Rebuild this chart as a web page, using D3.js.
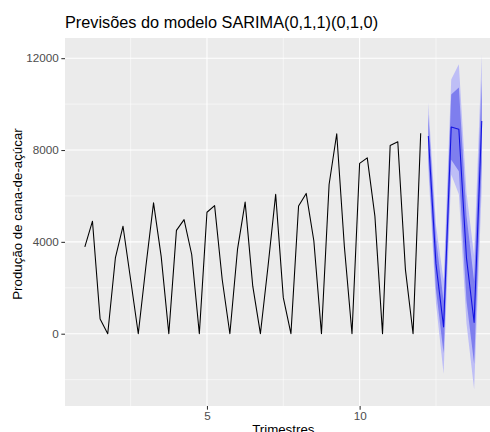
<!DOCTYPE html>
<html>
<head>
<meta charset="utf-8">
<script src="https://cdn.jsdelivr.net/npm/d3@7"></script>
<style>
  body { margin: 0; background: #fff; }
  text { font-family: "Liberation Sans", Arial, sans-serif; }
</style>
</head>
<body>
<svg id="chart" width="490" height="432"></svg>
<script>
// serie trimestral observada (inicio em 1, frequencia 4)
const inicio = 1;
const freq = 4;
const observado = [
  3780, 4900, 640, 0,
  3300, 4680, 2350, 0,
  2940, 5700, 3370, 0,
  4500, 4970, 3450, 0,
  5290, 5580, 2350, 0,
  3670, 5730, 2070, 0,
  2940, 6070, 1570, 0,
  5560, 6110, 4050, 0,
  6500, 8710, 3800, 0,
  7420, 7660, 5120, 0,
  8200, 8360, 2790, 0,
  8730
];

// previsoes (h = 1..8) e intervalos 80% / 95%
const previsao = [8610, 3040, 290, 9000, 8900, 3290, 490, 9260];
const lo80 = [7660, 1930, -840, 7580, 7080, 1430, -1310, 7470];
const hi80 = [9560, 4150, 1420, 10420, 10720, 5150, 2290, 11050];
const lo95 = [7160, 1340, -1740, 6930, 6070, 440, -2420, 6370];
const hi95 = [10060, 4740, 2320, 11070, 11730, 6140, 3400, 12150];

const xMajor = [5, 10];
const xMinor = [2.5, 7.5, 12.5];
const yMajor = [0, 4000, 8000, 12000];
const yMinor = [-2000, 2000, 6000, 10000];

const titulo = 'Previsões do modelo SARIMA(0,1,1)(0,1,0)';
const rotuloX = 'Trimestres';
const rotuloY = 'Produção de cana-de-açúcar';

const obs = observado.map((v, i) => ({ t: inicio + i / freq, v }));
const t0 = inicio + observado.length / freq;
const fc = previsao.map((v, i) => ({
  t: t0 + i / freq, v, lo80: lo80[i], hi80: hi80[i], lo95: lo95[i], hi95: hi95[i]
}));

const svg = d3.select('#chart');
const panel = { left: 65, top: 38, right: 501.6, bottom: 406 };

// escalas com expansao de 5% como no ggplot
const tExt = d3.extent([...obs.map(d => d.t), ...fc.map(d => d.t)]);
const tPad = (tExt[1] - tExt[0]) * 0.05;
const x = d3.scaleLinear().domain([tExt[0] - tPad, tExt[1] + tPad]).range([panel.left, panel.right]);

const vExt = d3.extent([...observado, ...lo95, ...hi95]);
const vPad = (vExt[1] - vExt[0]) * 0.05;
const y = d3.scaleLinear().domain([vExt[0] - vPad, vExt[1] + vPad]).range([panel.bottom, panel.top]);

svg.append('rect')
  .attr('x', panel.left).attr('y', panel.top)
  .attr('width', panel.right - panel.left).attr('height', panel.bottom - panel.top)
  .attr('fill', '#EBEBEB');

const grid = svg.append('g');
grid.selectAll('line.ymin').data(yMinor).join('line').classed('ymin', true)
  .attr('x1', panel.left).attr('x2', panel.right)
  .attr('y1', d => y(d)).attr('y2', d => y(d))
  .attr('stroke', '#fff').attr('stroke-width', 0.53);
grid.selectAll('line.xmin').data(xMinor).join('line').classed('xmin', true)
  .attr('y1', panel.top).attr('y2', panel.bottom)
  .attr('x1', d => x(d)).attr('x2', d => x(d))
  .attr('stroke', '#fff').attr('stroke-width', 0.53);
grid.selectAll('line.ymaj').data(yMajor).join('line').classed('ymaj', true)
  .attr('x1', panel.left).attr('x2', panel.right)
  .attr('y1', d => y(d)).attr('y2', d => y(d))
  .attr('stroke', '#fff').attr('stroke-width', 1.07);
grid.selectAll('line.xmaj').data(xMajor).join('line').classed('xmaj', true)
  .attr('y1', panel.top).attr('y2', panel.bottom)
  .attr('x1', d => x(d)).attr('x2', d => x(d))
  .attr('stroke', '#fff').attr('stroke-width', 1.07);

// intervalos
const area95 = d3.area().x(d => x(d.t)).y0(d => y(d.lo95)).y1(d => y(d.hi95));
const area80 = d3.area().x(d => x(d.t)).y0(d => y(d.lo80)).y1(d => y(d.hi80));
svg.append('path').datum(fc).attr('d', area95).attr('fill', '#BEBEF6');
svg.append('path').datum(fc).attr('d', area80).attr('fill', '#7E7EEE');

const line = d3.line().x(d => x(d.t)).y(d => y(d.v));
svg.append('path').datum(obs).attr('d', line)
  .attr('fill', 'none').attr('stroke', '#000').attr('stroke-width', 1.07)
  .attr('stroke-linejoin', 'round');
svg.append('path').datum(fc).attr('d', line)
  .attr('fill', 'none').attr('stroke', '#1212E2').attr('stroke-width', 1.07)
  .attr('stroke-linejoin', 'round');

// eixos
const xAxis = d3.axisBottom(x).tickValues(xMajor).tickSize(3.67).tickPadding(2.5);
const gx = svg.append('g').attr('transform', `translate(0,${panel.bottom})`).call(xAxis);
const yAxis = d3.axisLeft(y).tickValues(yMajor).tickSize(3.67).tickPadding(2.5).tickFormat(d3.format('d'));
const gy = svg.append('g').attr('transform', `translate(${panel.left},0)`).call(yAxis);
[gx, gy].forEach(g => {
  g.select('.domain').remove();
  g.selectAll('.tick line').attr('stroke', '#333333').attr('stroke-width', 1.07);
  g.selectAll('.tick text').attr('fill', '#4D4D4D')
    .style('font-size', '11.7px').style('font-family', '"Liberation Sans", Arial, sans-serif');
});

svg.append('text')
  .attr('x', panel.left).attr('y', 27.5)
  .style('font-size', '16.3px').attr('fill', '#000')
  .text(titulo);

svg.append('text')
  .attr('x', (panel.left + panel.right) / 2).attr('y', 434)
  .attr('text-anchor', 'middle')
  .style('font-size', '13.3px').attr('fill', '#000')
  .text(rotuloX);

svg.append('text')
  .attr('transform', `translate(21.5,214) rotate(-90)`)
  .attr('text-anchor', 'middle')
  .style('font-size', '13.3px').attr('fill', '#000')
  .text(rotuloY);
</script>
</body>
</html>
